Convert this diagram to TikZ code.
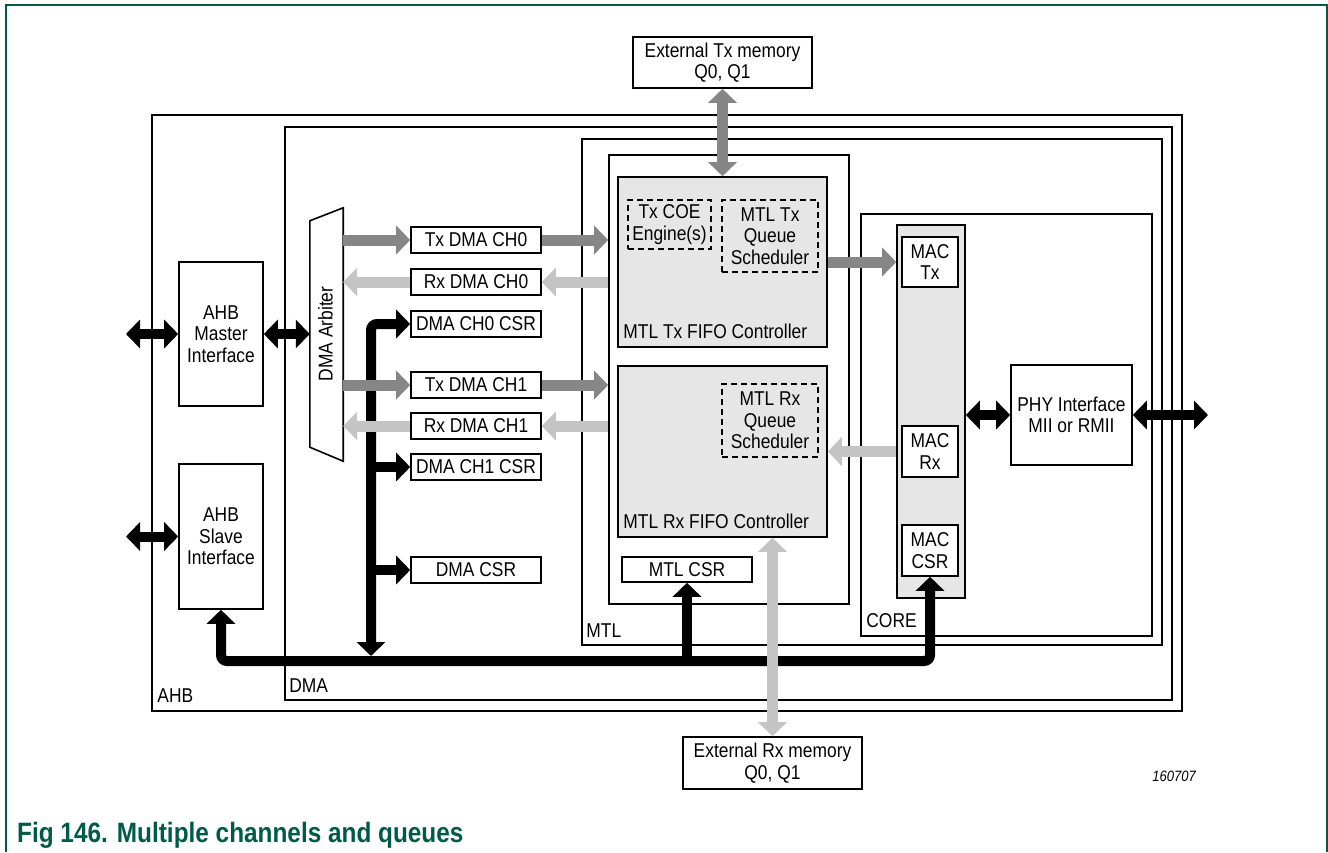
\documentclass[tikz,border=0pt]{standalone}
\usepackage{fontspec}
\setmainfont{Liberation Sans}[FakeStretch=0.87]
\usepackage{tikz}
\usetikzlibrary{arrows.meta, calc}
\definecolor{txgray}{RGB}{134,134,134}
\definecolor{rxgray}{RGB}{196,196,196}
\definecolor{fifogray}{RGB}{230,230,230}
\definecolor{figgreen}{RGB}{0,90,72}
\newcommand{\dfont}{\fontsize{20}{21.5}\selectfont}
\tikzset{
    box size/.style 2 args={minimum width=#1pt, minimum height=#2pt},
    box node/.style={draw, line width=1.6pt, fill=white, inner sep=0pt,
      align=center, font=\dfont},
    frame node/.style={draw, line width=1.6pt, inner sep=0pt},
    dash node/.style={draw, line width=1.6pt, dash pattern=on 6pt off 4pt,
      inner sep=0pt, align=center, font=\dfont},
    label node/.style={inner sep=0pt, anchor=base west, font=\dfont},
    tx line/.style={line width=11pt, draw=txgray, ->,
      >={Triangle[width=28pt,length=14pt]}},
    rx line/.style={line width=11pt, draw=rxgray, ->,
      >={Triangle[width=28pt,length=14pt]}},
    bus line/.style={line width=10pt, draw=black, ->,
      >={Triangle[width=28pt,length=14pt]}}
}
\begin{document}
\begin{tikzpicture}[x=1pt, y=-1pt]
  \useasboundingbox (0,0) rectangle (1328,852);
  \draw[figgreen, line width=2pt] (6,852) -- (6,4.5) -- (1327,4.5) -- (1327,852);

  % nested blocks
  \node[frame node, box size={1030}{596}] (ahb) at (667,413) {};
  \node[frame node, box size={887}{573}] (dma) at (728.5,413.5) {};
  \node[frame node, box size={580}{506}] (mtl) at (872,392) {};
  \node[frame node, box size={240}{449}] (mtlin) at (729,379.5) {};
  \node[frame node, box size={291}{422}] (core) at (1006.5,425) {};
  \node[label node] (ahblbl) at ([xshift=6pt,yshift=9pt]ahb.south west) {AHB};
  \node[label node] (dmalbl) at ([xshift=5pt,yshift=8pt]dma.south west) {DMA};
  \node[label node] (mtllbl) at ([xshift=5pt,yshift=8pt]mtl.south west) {MTL};
  \node[label node] (corelbl) at ([xshift=6pt,yshift=9pt]core.south west) {CORE};

  % AHB
  \node[box node, box size={84}{144}] (master) at (221,334) {AHB\\Master\\Interface};
  \node[box node, box size={84}{145}] (slave) at (221,536.5) {AHB\\Slave\\Interface};

  % DMA
  \node[box size={33}{226}, inner sep=0pt] (arb) at (326.5,334) {};
  \draw[line width=1.6pt, fill=white] (arb.north west) -- ([yshift=13pt]arb.north east)
    -- ([yshift=-14pt]arb.south east) -- (arb.south west) -- cycle;
  \node[rotate=90, inner sep=0pt, font=\dfont] (arbtxt) at ([xshift=-1pt]arb.center) {DMA Arbiter};
  \node[box node, box size={130}{26}] (txch0) at (476,240) {Tx DMA CH0};
  \node[box node, box size={130}{26}] (rxch0) at (476,282) {Rx DMA CH0};
  \node[box node, box size={130}{26}] (csr0) at (476,324) {DMA CH0 CSR};
  \node[box node, box size={130}{26}] (txch1) at (476,385) {Tx DMA CH1};
  \node[box node, box size={130}{26}] (rxch1) at (476,426) {Rx DMA CH1};
  \node[box node, box size={130}{26}] (csr1) at (476,467) {DMA CH1 CSR};
  \node[box node, box size={130}{26}] (dmacsr) at (476,570) {DMA CSR};

  % MTL
  \node[box node, fill=fifogray, box size={209}{170}] (txfifo) at (722.5,262) {};
  \node[box node, fill=fifogray, box size={209}{171}] (rxfifo) at (722.5,451.5) {};
  \node[label node] (txfifolbl) at ([xshift=6pt,yshift=9pt]txfifo.south west) {MTL Tx FIFO Controller};
  \node[label node] (rxfifolbl) at ([xshift=6pt,yshift=9pt]rxfifo.south west) {MTL Rx FIFO Controller};
  \node[dash node, box size={83}{49}] (coe) at (669.5,224.5) {Tx COE\\Engine(s)};
  \node[dash node, box size={96}{72}] (txsched) at (770,236) {MTL Tx\\Queue\\Scheduler};
  \node[dash node, box size={96}{73}] (rxsched) at (770,420.5) {MTL Rx\\Queue\\Scheduler};
  \node[box node, box size={130}{25}] (mtlcsr) at (687,569.5) {MTL CSR};

  % CORE
  \node[box node, fill=fifogray, box size={68}{373}] (maccol) at (931,411.5) {};
  \node[box node, box size={56}{50}] (mactx) at (930,262) {MAC\\Tx};
  \node[box node, box size={56}{51}] (macrx) at (930,451.5) {MAC\\Rx};
  \node[box node, box size={56}{51}] (maccsr) at (930,550.5) {MAC\\CSR};
  \node[box node, box size={121}{100}] (phy) at (1071.5,415) {PHY Interface\\MII or RMII};

  % memories
  \node[box node, box size={179}{51}] (extx) at (722.5,62.5) {External Tx memory\\Q0, Q1};
  \node[box node, box size={179}{52}] (extrx) at (772.5,763) {External Rx memory\\Q0, Q1};

  % black links
  \coordinate (mext) at (126,334);
  \coordinate (sext) at (126,536.5);
  \coordinate (phyext) at (1208,415);
  \coordinate (busline) at (0,661);
  \coordinate (dmabus) at (371,656);
  \draw[bus line, <->] (mext) -- (master.west);
  \draw[bus line, <->] (master.east) -- (arb.west);
  \draw[bus line, <->] (sext) -- (slave.west);
  \draw[bus line, <->, rounded corners=6pt] (slave.south) -- (slave.south |- busline)
    -| (maccsr.south);
  \draw[bus line, <->, rounded corners=6pt] (csr0.west) -| (dmabus);
  \draw[bus line] (dmabus |- csr1) -- (csr1.west);
  \draw[bus line] (dmabus |- dmacsr) -- (dmacsr.west);
  \draw[bus line] (mtlcsr.south |- busline) -- (mtlcsr.south);
  \draw[bus line, <->] (maccol.east |- phy) -- (phy.west);
  \draw[bus line, <->] (phy.east) -- (phyext);

  % tx / rx data
  \draw[tx line] (arb.east |- txch0) -- (txch0.west);
  \draw[tx line] (txch0.east) -- (txch0 -| mtlin.west);
  \draw[rx line] (rxch0 -| mtlin.west) -- (rxch0.east);
  \draw[rx line] (rxch0.west) -- (rxch0 -| arb.east);
  \draw[tx line] (arb.east |- txch1) -- (txch1.west);
  \draw[tx line] (txch1.east) -- (txch1 -| mtlin.west);
  \draw[rx line] (rxch1 -| mtlin.west) -- (rxch1.east);
  \draw[rx line] (rxch1.west) -- (rxch1 -| arb.east);
  \draw[tx line] (txfifo.east |- mactx) -- (maccol.west |- mactx);
  \draw[rx line] (maccol.west |- macrx) -- (rxfifo.east |- macrx);
  \draw[tx line, <->] (extx.south) -- (txfifo.north);
  \draw[rx line, <->] (extrx.north |- rxfifo.south) -- (extrx.north);

  \node[anchor=base east, inner sep=0pt, font=\fontsize{15}{17}\itshape] (figid) at (1196,781) {160707};
  \node[anchor=base west, inner sep=0pt, text=figgreen, font=\fontsize{28}{30}\bfseries] (caption)
    at (17,842) {Fig 146. Multiple channels and queues};
\end{tikzpicture}
\end{document}
